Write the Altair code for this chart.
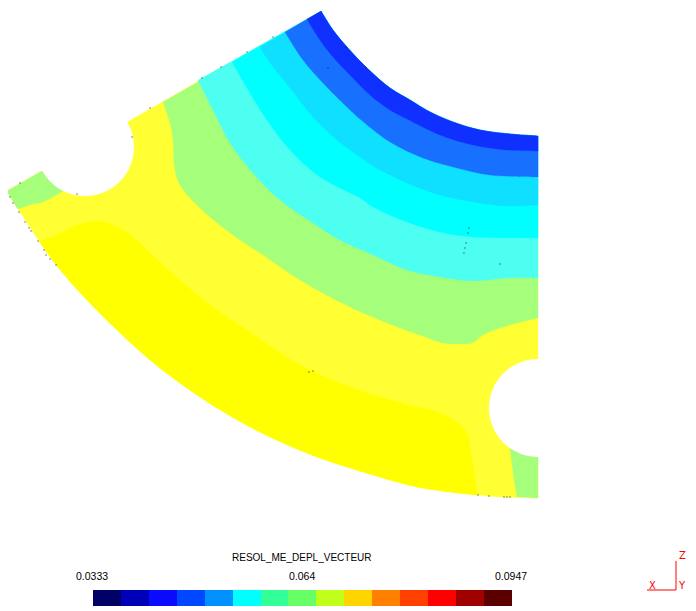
import altair as alt
import pandas as pd

# picture coordinates
top_edge = [(321,11),(7,191)]
inner_arc = [(321,11),(333,30),(347,47),(367,68),(390,88),(410,100),(430,112),(453,122),(480,130),(510,134),(538,136)]
outer_arc = [(7,191),(14,203),(18,209),(39,241),(57,266),(85,298),(117,330),(150,360),(184,386),(217,408),(250,427),(283,443),(317,457),(350,468),(383,478),(417,487),(450,492),(477,495),(500,497),(517,497.5),(538,498)]
b_yellow = [(39,241),(58,235),(72,227),(100,221),(117,227),(133,237),(150,253),(183,283),(217,310),(250,332),(283,355),(310,370),(350,387),(383,398),(417,407),(440,413),(465,430),(472,460),(477,495)]
b_green = [(163,102),(170,123),(173,140),(175,170),(180,185),(200,208),(237,238),(260,253),(300,280),(350,307),(400,328),(420,335),(443,343),(457,344),(472,343),(483,335),(500,328),(517,323),(538,318)]
b_cyan1 = [(198,80),(213,110),(230,143),(253,173),(280,200),(313,223),(340,240),(373,255),(407,270),(440,277),(473,281),(507,278),(538,278)]
b_cyan2 = [(232,62),(247,88),(267,120),(290,150),(320,177),(360,198),(373,207),(407,222),(440,232),(473,237),(538,238)]
b_blue3 = [(260,47),(268,60),(290,88),(313,117),(337,140),(360,157),(373,166),(407,183),(440,195),(473,202),(507,206),(538,205)]
b_blue2 = [(285,32),(303,60),(323,83),(347,107),(360,119),(390,142),(423,158),(457,168),(490,175),(538,177)]
b_blue1 = [(307,19),(320,40),(333,57),(350,75),(370,95),(390,110),(407,119),(440,135),(473,145),(507,150),(538,151)]
left_green_a = [(7,191),(42,171)]
left_green_b = [(42,171),(63,191)]
left_green_c = [(63,191),(43,202),(33,204),(18,209)]
left_green_d = [(18,209),(7,191)]
right_green_a = [(510,448),(515,485),(517,497)]
right_green_b = [(517,497),(538,498)]
right_green_c = [(538,498),(538,457)]
right_green_d = [(538,457),(510,448)]
holes_x = [85, 538]
holes_y = [147, 408]
hole_area = 9604

zone_colors = ["#ffff33", "#ffff00", "#a6ff7a", "#4dfff0", "#00ffff", "#10e0ff", "#1870ff", "#1030ff"]

legend_colors = ["#000066","#0000b8","#0a0aff","#0048ff","#0090ff","#00ffff","#33ff99","#66ff66",
                 "#bfff1a","#ffd500","#ff8000","#ff4000","#ff0000","#a00000","#5a0000"]
legend_edges = [93,121,149,177,205,233,261,288,316,344,372,400,428,456,484,512]
legend_top, legend_bottom = 590, 606

titles = ["RESOL_ME_DEPL_VECTEUR"]
titles_x = [232]
titles_y = [561]
labels = ["0.0333","0.064","0.0947"]
labels_x = [76,289,495]
labels_y = [580,580,580]

triad_x = [647,676,676]
triad_y = [590,590,561]
triad_labels = ["X","Y","Z"]
triad_lx = [649,679,679]
triad_ly = [589,589,559]

specks = [(469,228),(468,233),(466,243),(465,248),(464,253),(500,264),(328,68),(313,371),(309,372),
          (10,197),(13,203),(19,212),(25,222),(29,228),(31,231),(38,241),(44,250),(46,255),(50,259),(56,265),
          (20,183),(150,108),(132,137),(77,194),(202,78),(221,67),(247,52),(273,37),(478,495),(489,496),
          (504,497),(507,497),(510,497),(346,47),(366,68)]

X = alt.Scale(domain=[8,688])
Y = alt.Scale(domain=[608,8])
ax = dict(axis=None, scale=X)
ay = dict(axis=None, scale=Y)

def poly(segments, color):
    # each segment is one smooth curve; doubled end points keep the corners between curves sharp
    pts = []
    for s in segments:
        pts += [s[0]] + list(s) + [s[-1]]
    df = pd.DataFrame(pts, columns=["x","y"]).assign(i=lambda d: d.index)
    return alt.Chart(df).mark_line(fill=color, stroke=color, strokeWidth=0.3, interpolate="catmull-rom").encode(
        x=alt.X("x:Q", **ax), y=alt.Y("y:Q", **ay), order="i:Q")

def yellow_arc():
    return [p for p in outer_arc if 39 <= p[0] <= 477][::-1]

layers = [
    poly([inner_arc, outer_arc[::-1], top_edge[::-1]], zone_colors[0]),
    poly([b_yellow, yellow_arc()], zone_colors[1]),
    poly([left_green_a, left_green_b, left_green_c, left_green_d], zone_colors[2]),
    poly([right_green_a, right_green_b, right_green_c, right_green_d], zone_colors[2]),
]
for b, c in zip([b_green,b_cyan1,b_cyan2,b_blue3,b_blue2,b_blue1], zone_colors[2:]):
    layers.append(poly([b, inner_arc[::-1]], c))

holes = alt.Chart(pd.DataFrame({"x":holes_x,"y":holes_y})).mark_circle(
    color="white", opacity=1, size=hole_area).encode(x=alt.X("x:Q", **ax), y=alt.Y("y:Q", **ay))
layers.append(holes)

sp = alt.Chart(pd.DataFrame(specks, columns=["x","y"])).mark_square(
    color="#111111", opacity=1, size=1).encode(x=alt.X("x:Q", **ax), y=alt.Y("y:Q", **ay))
layers.append(sp)

leg = pd.DataFrame({"x":legend_edges[:-1],"x2":legend_edges[1:],"c":legend_colors,
                    "y":[legend_top]*15,"y2":[legend_bottom]*15})
layers.append(alt.Chart(leg).mark_rect().encode(
    x=alt.X("x:Q", **ax), x2="x2:Q", y=alt.Y("y:Q", **ay), y2="y2:Q",
    fill=alt.Fill("c:N", scale=None)))

for names, xs, ys, fs in [(titles, titles_x, titles_y, 10), (labels, labels_x, labels_y, 10.5)]:
    txt = pd.DataFrame({"x":xs,"y":ys,"t":names})
    layers.append(alt.Chart(txt).mark_text(align="left", baseline="alphabetic", font="Liberation Sans",
        fontSize=fs, color="black").encode(x=alt.X("x:Q", **ax), y=alt.Y("y:Q", **ay), text="t:N"))

tri = pd.DataFrame({"x":triad_x,"y":triad_y}).assign(i=lambda d: d.index)
layers.append(alt.Chart(tri).mark_line(color="#ff0000", strokeWidth=1).encode(
    x=alt.X("x:Q", **ax), y=alt.Y("y:Q", **ay), order="i:Q"))
tl = pd.DataFrame({"x":triad_lx,"y":triad_ly,"t":triad_labels})
layers.append(alt.Chart(tl).mark_text(align="left", baseline="alphabetic", font="DejaVu Sans",
    fontSize=10, color="#ff0000").encode(x=alt.X("x:Q", **ax), y=alt.Y("y:Q", **ay), text="t:N"))

chart = alt.layer(*layers).properties(width=680, height=600, padding=0, background="white",
    autosize=alt.AutoSizeParams(type="none")).configure_view(stroke=None)
chart.save("out.html", embed_options={"renderer": "svg", "actions": False})
